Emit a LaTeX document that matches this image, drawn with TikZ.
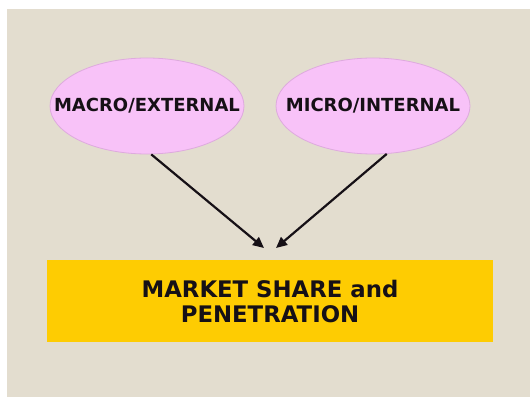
\documentclass[tikz,border=0pt]{standalone}
\usepackage{fontspec}
\setmainfont{DejaVu Sans}
\usetikzlibrary{shapes.geometric,arrows.meta}
\definecolor{bgbeige}{RGB}{227,221,207}
\definecolor{ovalpink}{RGB}{248,194,248}
\definecolor{ovaledge}{RGB}{222,170,222}
\definecolor{boxgold}{RGB}{254,204,2}
\definecolor{inkdark}{RGB}{22,16,22}
\tikzset{
  oval/.style={ellipse, fill=ovalpink, draw=ovaledge, line width=0.8pt,
    minimum width=194pt, minimum height=96pt, inner sep=0pt},
  ovaltext/.style={inner sep=0pt, text=inkdark, font=\bfseries\fontsize{18}{20}\selectfont},
  goldbox/.style={rectangle, fill=boxgold, minimum width=446pt, minimum height=82pt,
    inner sep=0pt, align=center, text=inkdark, font=\bfseries\fontsize{22.8}{25}\selectfont},
  arr/.style={-{Triangle[length=11pt,width=10pt]}, line width=2.2pt, draw=inkdark}
}
\begin{document}
\begin{tikzpicture}[x=1pt,y=1pt]
\useasboundingbox (0,0) rectangle (530,397);
\fill[white] (0,0) rectangle (530,397);
\fill[bgbeige] (7,0) rectangle (530,388);
\node[oval] (macro) at (147,291) {};
\node[oval] (micro) at (373,291) {};
\node[ovaltext] (macrotext) at (macro.center) {MACRO/EXTERNAL};
\node[ovaltext] (microtext) at (micro.center) {MICRO/INTERNAL};
\node[goldbox] (market) at (270,96) {MARKET SHARE and\\PENETRATION};
\coordinate (tipl) at (264,149);
\coordinate (tipr) at (276,149);
\draw[arr] (macro.-85) -- (tipl);
\draw[arr] (micro.-74) -- (tipr);
\end{tikzpicture}
\end{document}
